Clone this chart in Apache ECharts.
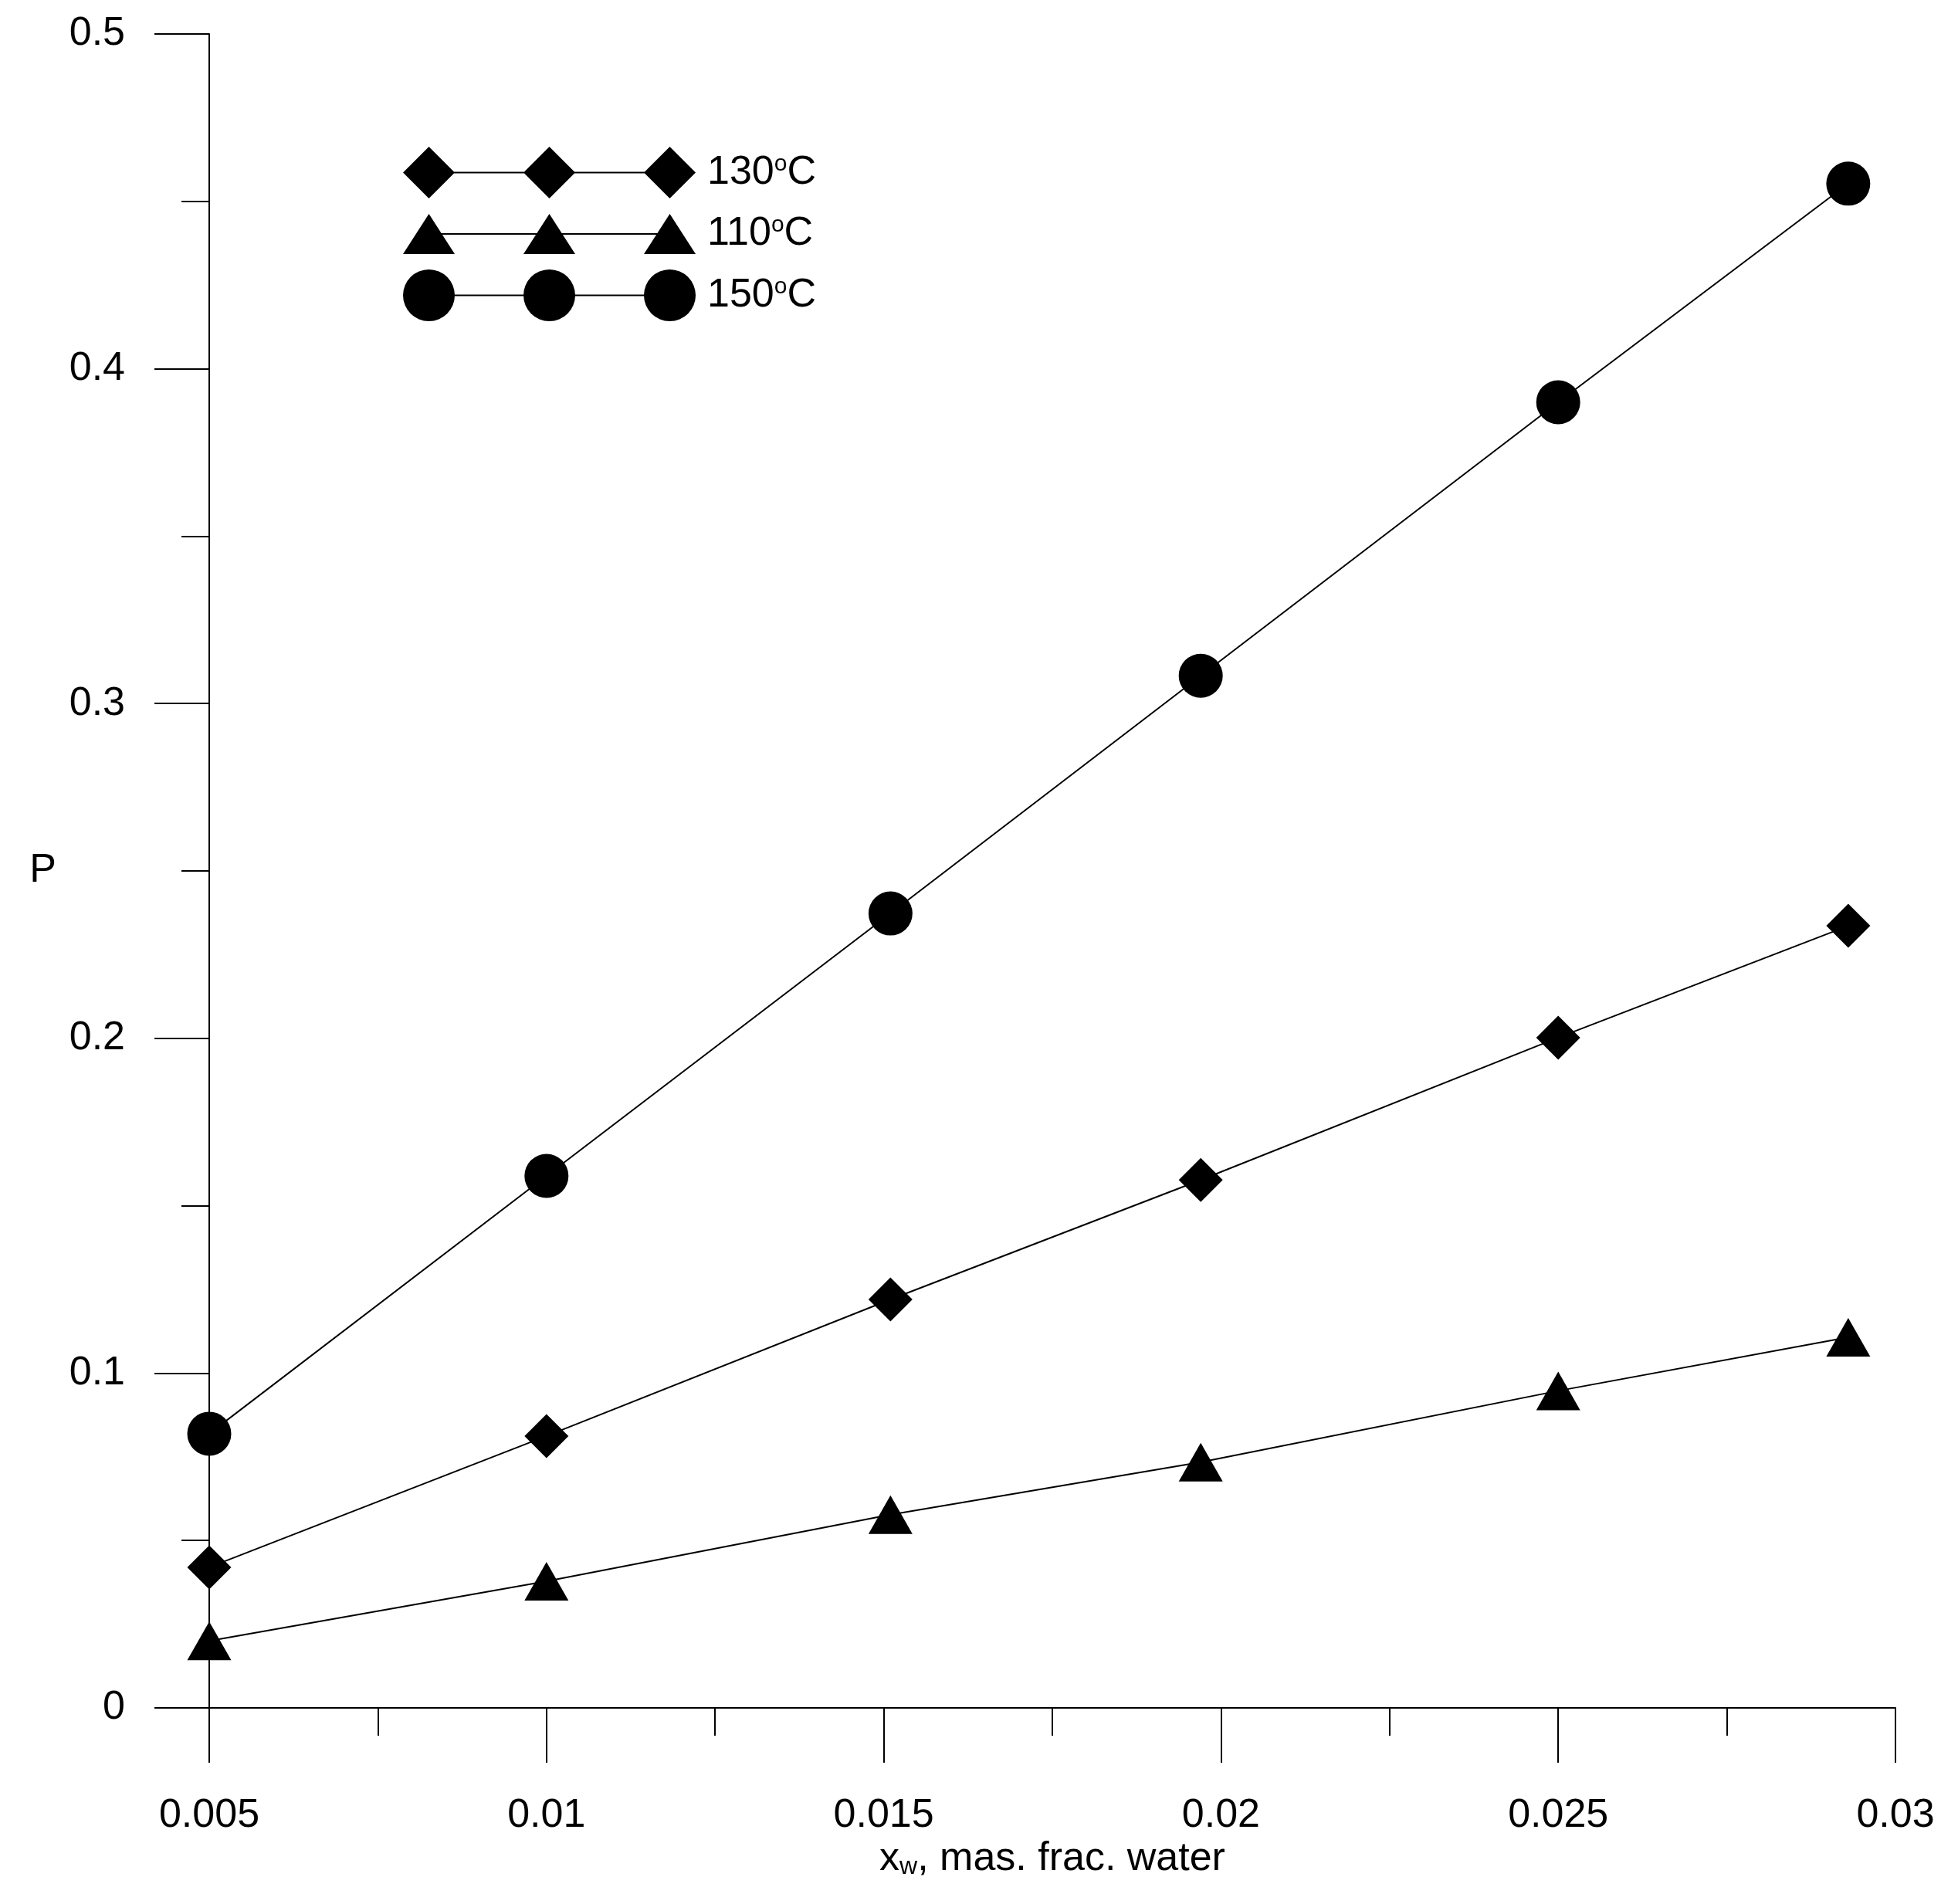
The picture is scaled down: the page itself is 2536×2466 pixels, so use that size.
<!DOCTYPE html>
<html>
<head>
	<meta charset="UTF-8">
	<title>P vs x_w</title>
	<script src="https://cdn.jsdelivr.net/npm/echarts@6/dist/echarts.min.js"></script>
	<style>
		html, body { margin: 0; padding: 0; background: #fff; }
		#chart { width: 2536px; height: 2466px; }
	</style>
</head>
<body>
	<div id="chart"></div>
<script type="text/javascript">
	// data
	var xw = [0.005, 0.01, 0.0151, 0.0197, 0.025, 0.0293];
	var p130 = [0.042, 0.0812, 0.122, 0.1577, 0.2002, 0.2336];
	var p110 = [0.020, 0.0378, 0.0577, 0.0734, 0.0947, 0.1107];
	var p150 = [0.0819, 0.1589, 0.2373, 0.3083, 0.390, 0.4553];
	var seriesNames = ['130°C', '110°C', '150°C'];

	var font = "'Liberation Sans', Arial, sans-serif";
	var fs = 52;

	function pairs(ys) {
		return xw.map(function (x, i) { return [x, ys[i]]; });
	}

	// legend icons: three markers joined by a line
	var iconDiamond = 'path://M0 33.5 L33.5 0 L67 33.5 L33.5 67 Z M156 33.5 L189.5 0 L223 33.5 L189.5 67 Z M312 33.5 L345.5 0 L379 33.5 L345.5 67 Z M33.5 32.5 L345.5 32.5 L345.5 34.5 L33.5 34.5 Z';
	var iconTriangle = 'path://M33.5 0 L67 52 L0 52 Z M189.5 0 L223 52 L156 52 Z M345.5 0 L379 52 L312 52 Z M33.5 25 L345.5 25 L345.5 27 L33.5 27 Z';
	var iconCircle = 'path://M0 33.5 A33.5 33.5 0 1 1 67 33.5 A33.5 33.5 0 1 1 0 33.5 Z M156 33.5 A33.5 33.5 0 1 1 223 33.5 A33.5 33.5 0 1 1 156 33.5 Z M312 33.5 A33.5 33.5 0 1 1 379 33.5 A33.5 33.5 0 1 1 312 33.5 Z M33.5 32.5 L345.5 32.5 L345.5 34.5 L33.5 34.5 Z';

	var myChart = echarts.init(document.getElementById('chart'));

	function lineSeries(name, ys, symbol, size) {
		return {
			name: name,
			type: 'line',
			data: pairs(ys),
			symbol: symbol,
			symbolSize: size,
			showAllSymbol: true,
			lineStyle: { color: '#000', width: 2 },
			itemStyle: { color: '#000', borderWidth: 0 },
			emphasis: { disabled: true },
			z: 3
		};
	}

	var option = {
		animation: false,
		backgroundColor: '#fff',
		grid: { left: 271, right: 81, top: 44, bottom: 254, containLabel: false },
		legend: {
			orient: 'vertical',
			left: 517,
			top: 185,
			itemWidth: 379,
			itemHeight: 67,
			itemGap: 20,
			selectedMode: false,
			textStyle: {
				fontFamily: font, fontSize: fs, color: '#000', padding: [0, 0, 0, 10],
				rich: { s: { fontFamily: font, fontSize: 30, color: '#000', verticalAlign: 'top', padding: [0, 0, 12, 0] } }
			},
			formatter: function (name) { return name.replace('°', '{s|o}'); },
			data: [
				{ name: seriesNames[0], icon: iconDiamond },
				{ name: seriesNames[1], icon: iconTriangle },
				{ name: seriesNames[2], icon: iconCircle }
			]
		},
		xAxis: {
			type: 'value',
			min: 0.005,
			max: 0.03,
			interval: 0.005,
			name: '{x|x}{sub|w}{n|, mas. frac. water}',
			nameLocation: 'middle',
			nameGap: 170,
			nameMoveOverlap: false,
			nameTextStyle: {
				fontFamily: font, fontSize: fs, color: '#000',
				rich: {
					x: { fontFamily: font, fontSize: fs, color: '#000' },
					sub: { fontFamily: font, fontSize: 32, color: '#000', verticalAlign: 'bottom', padding: [14, 0, 0, 0] },
					n: { fontFamily: font, fontSize: fs, color: '#000' }
				}
			},
			axisLine: { show: true, onZero: false, lineStyle: { color: '#000', width: 2 } },
			axisTick: { show: true, inside: false, length: 71, lineStyle: { color: '#000', width: 2 } },
			minorTick: { show: true, splitNumber: 2, length: 36, lineStyle: { color: '#000', width: 2 } },
			splitLine: { show: false },
			axisLabel: { fontFamily: font, fontSize: fs, color: '#000', margin: 114, showMinLabel: true, showMaxLabel: true }
		},
		yAxis: {
			type: 'value',
			min: 0,
			max: 0.5,
			interval: 0.1,
			name: 'P',
			nameLocation: 'middle',
			nameRotate: 0,
			nameGap: 198,
			nameMoveOverlap: false,
			nameTextStyle: { fontFamily: font, fontSize: fs, color: '#000' },
			axisLine: { show: true, onZero: false, lineStyle: { color: '#000', width: 2 } },
			axisTick: { show: true, inside: false, length: 71, lineStyle: { color: '#000', width: 2 } },
			minorTick: { show: true, splitNumber: 2, length: 36, lineStyle: { color: '#000', width: 2 } },
			splitLine: { show: false },
			axisLabel: { fontFamily: font, fontSize: fs, color: '#000', margin: 109 }
		},
		series: [
			lineSeries(seriesNames[0], p130, 'diamond', [57, 57]),
			lineSeries(seriesNames[1], p110, 'triangle', [57, 50]),
			lineSeries(seriesNames[2], p150, 'circle', 57)
		]
	};

	myChart.setOption(option);
</script>
</body>
</html>
